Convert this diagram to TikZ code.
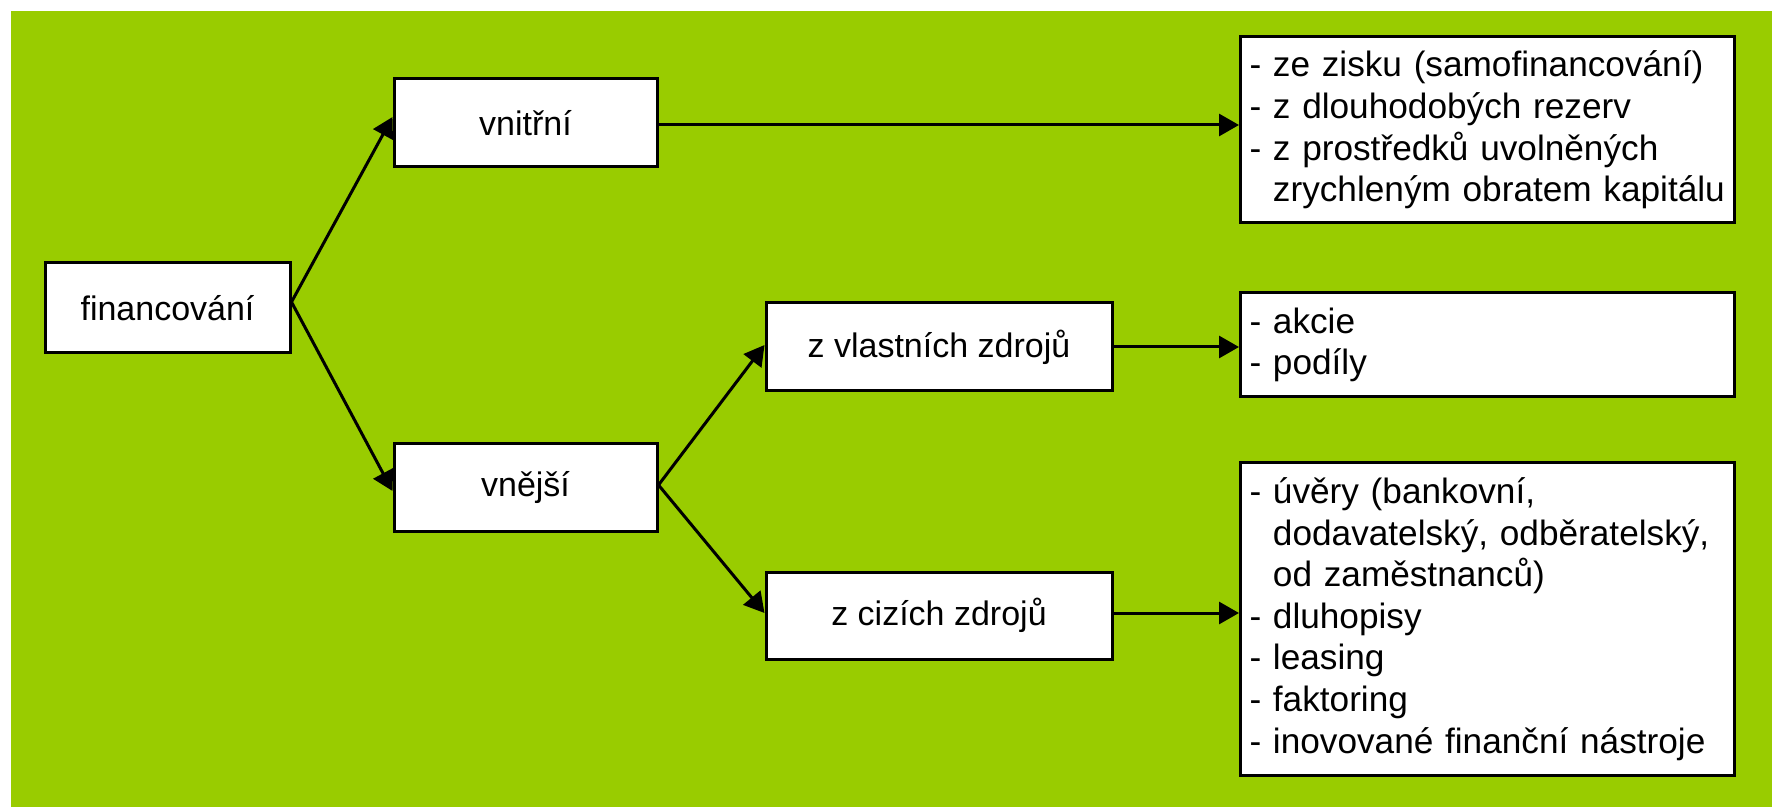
\documentclass[tikz,border=0pt]{standalone}
\usepackage{fontspec}
\setmainfont{Liberation Sans}
\usetikzlibrary{arrows.meta}
\definecolor{leaf}{HTML}{99CC00}
\begin{document}
\begin{tikzpicture}[x=0.5pt,y=-0.5pt,
  box/.style={draw=black, line width=1.5pt, fill=white, inner sep=0pt,
    font=\fontsize{17pt}{21pt}\selectfont},
  listbox/.style={box, align=left, inner xsep=4.5pt, text width=238pt,
    minimum width=247pt, font=\fontsize{17.6pt}{20.8pt}\selectfont},
  link/.style={line width=1.5pt, -{Triangle[length=10pt,width=11pt]}}]
\useasboundingbox (0,0) rectangle (1772,807);
\fill[leaf] (11,11) rectangle (1772,807);

% main branches
\node[box, minimum width=122.5pt, minimum height=45pt] (fin) at (167.5,308) {financování};
\node[box, minimum width=131.5pt, minimum height=44pt] (vnitrni) at (525.5,123) {vnitřní};
\node[box, minimum width=131.5pt, minimum height=43.5pt] (vnejsi) at (525.5,487.5) {vnější};
\node[box, minimum width=173pt, minimum height=44pt] (vlastni) at (939,347) {z vlastních zdrojů};
\node[box, minimum width=173pt, minimum height=43.5pt] (cizi) at (939,615.5) {z cizích zdrojů};

% lists of sources
\node[listbox, minimum height=93pt] (zisk) at (1487.5,130)
  {- ze zisku (samofinancování)\\
   - z dlouhodobých rezerv\\
   - z prostředků uvolněných\\
   \hphantom{- }zrychleným obratem kapitálu};
\node[listbox, minimum height=52pt] (akcie) at (1487.5,345)
  {- akcie\\
   - podíly};
\node[listbox, minimum height=156pt] (uvery) at (1487.5,619)
  {- úvěry (bankovní,\\
   \hphantom{- }dodavatelský, odběratelský,\\
   \hphantom{- }od zaměstnanců)\\
   - dluhopisy\\
   - leasing\\
   - faktoring\\
   - inovované finanční nástroje};

% fork points on the right sides of the branching boxes
\coordinate (finfork) at ([yshift=3pt]fin.east);
\coordinate (vnfork) at ([yshift=1.25pt]vnejsi.east);

% connectors
\draw[link] (finfork) -- ([yshift=3pt]vnitrni.west);
\draw[link] (finfork) -- ([yshift=-1.75pt]vnejsi.west);
\draw[link] ([yshift=-1pt]vnitrni.east) -- ([yshift=-1pt]vnitrni.east -| zisk.west);
\draw[link] (vnfork) -- ([yshift=1pt]vlastni.west);
\draw[link] (vnfork) -- ([yshift=1.25pt]cizi.west);
\draw[link] (vlastni.east) -- (vlastni.east -| akcie.west);
\draw[link] ([yshift=1.25pt]cizi.east) -- ([yshift=1.25pt]cizi.east -| uvery.west);
\end{tikzpicture}
\end{document}
